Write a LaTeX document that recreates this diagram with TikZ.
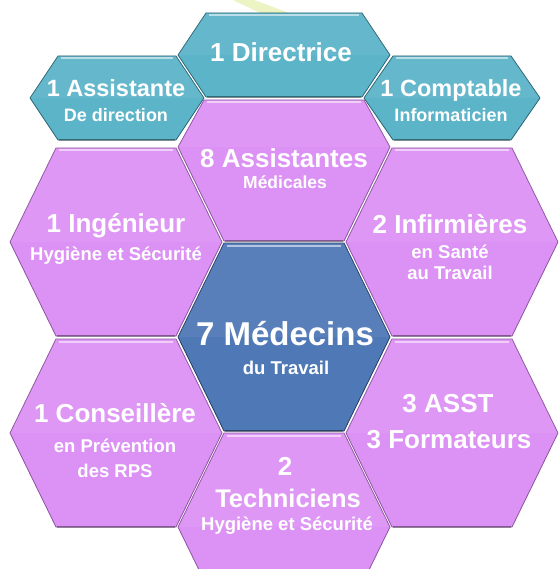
\documentclass[tikz,border=0pt]{standalone}
\usepackage{fontspec}
\setmainfont{Liberation Sans}
\usetikzlibrary{positioning}
\definecolor{color_pink}{RGB}{220,145,244}
\definecolor{color_pink_edge}{RGB}{140,84,160}
\definecolor{color_teal}{RGB}{92,180,200}
\definecolor{color_teal_edge}{RGB}{40,100,115}
\definecolor{color_blue}{RGB}{78,120,182}
\definecolor{color_blue_edge}{RGB}{35,60,100}
\definecolor{color_streak}{RGB}{236,244,196}

% one bevelled hexagon: style, cx, cy, half width, half top edge, half height (y downwards)
\newcommand{\hexcell}[6]{%
    \path[#1] ({#2-#5},{-(#3-#6)}) -- ({#2+#5},{-(#3-#6)}) -- ({#2+#4},{-#3})
        -- ({#2+#5},{-(#3+#6)}) -- ({#2-#5},{-(#3+#6)}) -- ({#2-#4},{-#3}) -- cycle;
    \fill[white,opacity=.06] ({#2-#5},{-(#3-#6)}) -- ({#2+#5},{-(#3-#6)}) -- ({#2+#4},{-#3})
        -- ({#2-#4},{-#3}) -- cycle;
    \draw[white,opacity=.55,line width=2pt] ({#2-#5+3},{-(#3-#6+2.5)}) -- ({#2+#5-3},{-(#3-#6+2.5)});
    \draw[black,opacity=.3,line width=1.5pt] ({#2-#5+1},{-(#3+#6)}) -- ({#2+#5-1},{-(#3+#6)});
}

\begin{document}
\begin{tikzpicture}[
    x=1pt,y=1pt,
    pinkhex/.style={fill=color_pink,draw=color_pink_edge,line width=0.8pt},
    tealhex/.style={fill=color_teal,draw=color_teal_edge,line width=0.8pt},
    bluehex/.style={fill=color_blue,draw=color_blue_edge,line width=0.8pt},
    lbl/.style={text=white,anchor=base,inner sep=0pt}
]
    % picture is 558 x 569, measured from the top-left corner
    \useasboundingbox (0,0) rectangle (558,-569);
    \clip (0,0) rectangle (558,-569);

    % pale streak behind the top hexagon
    \fill[color_streak] (233,0) -- (254,0) -- (292,-14) -- (262,-14) -- cycle;

    \def\hw{106}
    \def\ht{60}
    \def\hh{94}

    % teal row
    \hexcell{tealhex}{284}{55}{106}{78}{42}
    \hexcell{tealhex}{117}{98}{87}{59}{42}
    \hexcell{tealhex}{452}{98}{88}{59}{42}

    % 8 Assistantes, cut by the teal row
    \path[pinkhex] (204,-100) -- (364,-100) -- (390,-147) -- (344,-241) -- (224,-241) -- (178,-147) -- cycle;
    \fill[white,opacity=.06] (204,-100) -- (364,-100) -- (390,-147) -- (178,-147) -- cycle;
    \draw[white,opacity=.55,line width=2pt] (207,-102.5) -- (361,-102.5);
    \draw[black,opacity=.3,line width=1.5pt] (225,-241) -- (343,-241);

    % pink ring and blue centre
    \foreach \cx/\cy in {116/242, 452/242, 116/433, 452/433, 284/527}{
        \hexcell{pinkhex}{\cx}{\cy}{\hw}{\ht}{\hh}
    }
    \hexcell{bluehex}{284}{337}{\hw}{\ht}{\hh}

    % labels: x / baseline / size / text
    \foreach \x/\y/\s/\t [count=\i] in {
        281/62/26/1 Directrice,
        116/97/23.5/1 Assistante,
        116/122/18/De direction,
        451/97/23.5/1 Comptable,
        451/122/18/Informaticien,
        284/168/26/8 Assistantes,
        285/189/17.5/Médicales,
        116/232/26/1 Ingénieur,
        116/260/18.5/Hygiène et Sécurité,
        450/233/26/2 Infirmières,
        450/258/18.5/en Santé,
        450/279/18.5/au Travail,
        285/345/33/7 Médecins,
        286/374/18.5/du Travail,
        115/422/26/1 Conseillère,
        115/452/18.5/en Prévention,
        115/477/18.5/des RPS,
        285/475/26/2,
        288/507/25.5/Techniciens,
        287/530/18.5/Hygiène et Sécurité,
        448/412/26/3 ASST,
        449/448/26/3 Formateurs
    }{
        \node[lbl,font=\bfseries\fontsize{\s}{\s}\selectfont] (lbl\i) at (\x,-\y) {\t};
    }

\end{tikzpicture}
\end{document}
